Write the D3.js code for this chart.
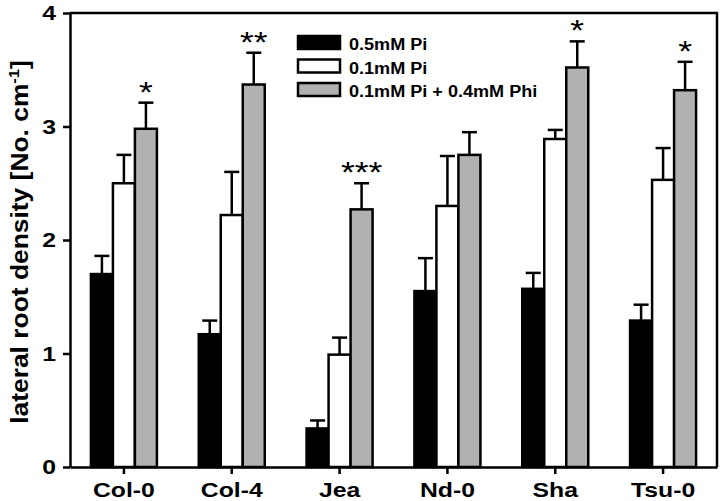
<!DOCTYPE html>
<html>
<head>
<meta charset="utf-8">
<script src="https://cdn.jsdelivr.net/npm/d3@7"></script>
<style>
  body { margin: 0; background: #fff; }
  svg { display: block; font-family: Arial, "Liberation Sans", sans-serif; }
</style>
</head>
<body>
<div id="chart"></div>
<script>
// data
const lines = ['Col-0', 'Col-4', 'Jea', 'Nd-0', 'Sha', 'Tsu-0'];
const treatments = ['0.5mM Pi', '0.1mM Pi', '0.1mM Pi + 0.4mM Phi'];
const means05 = [1.70, 1.17, 0.34, 1.55, 1.57, 1.29];
const err05   = [0.16, 0.12, 0.07, 0.29, 0.14, 0.14];
const means01 = [2.50, 2.22, 0.99, 2.30, 2.89, 2.53];
const err01   = [0.25, 0.38, 0.15, 0.44, 0.08, 0.28];
const meansPhi = [2.98, 3.37, 2.27, 2.75, 3.52, 3.32];
const errPhi   = [0.23, 0.28, 0.23, 0.20, 0.23, 0.25];
const signif = ['*', '**', '***', '', '*', '*'];
const yTicks = [0, 1, 2, 3, 4];

const fills = ['#000000', '#ffffff', '#b1b1b3'];

// the fonts in the original figure are a bit wider than Arial
const stretch = 1.18;

let width = 720, height = 501;
let margin = {top: 13, right: 3, bottom: 34, left: 70};

let svg = d3.select('#chart').append('svg')
    .attr('width', width)
    .attr('height', height);

let x0 = d3.scaleBand()
    .domain(lines)
    .range([margin.left, width - margin.right]);

// bars in a group: 66 px wide, centred in the band
let x1 = d3.scaleBand()
    .domain(treatments)
    .range([-33, 33]);

let y = d3.scaleLinear()
    .domain([0, 4])
    .range([height - margin.bottom, margin.top]);

// build a flat table from the arrays
let seriesMeans = [means05, means01, meansPhi];
let seriesErr = [err05, err01, errPhi];
let table = [];
lines.forEach((l, i) => {
    treatments.forEach((t, j) => {
        table.push({line: l, treat: t, idx: j, mean: seriesMeans[j][i], err: seriesErr[j][i]});
    });
});

let barCenter = d => x0(d.line) + x0.bandwidth() / 2 + x1(d.treat) + x1.bandwidth() / 2;

// error bars (upward only), drawn under the bars
let eb = svg.append('g').attr('class', 'errors');
eb.selectAll('line.stem')
    .data(table)
    .enter().append('line')
    .attr('x1', barCenter)
    .attr('x2', barCenter)
    .attr('y1', d => y(d.mean))
    .attr('y2', d => y(d.mean + d.err))
    .attr('stroke', '#000')
    .attr('stroke-width', 2.5);
eb.selectAll('line.cap')
    .data(table)
    .enter().append('line')
    .attr('x1', d => barCenter(d) - 7.5)
    .attr('x2', d => barCenter(d) + 7.5)
    .attr('y1', d => y(d.mean + d.err))
    .attr('y2', d => y(d.mean + d.err))
    .attr('stroke', '#000')
    .attr('stroke-width', 2.5);

// bars
svg.append('g').selectAll('rect')
    .data(table)
    .enter().append('rect')
    .attr('x', d => x0(d.line) + x0.bandwidth() / 2 + x1(d.treat))
    .attr('y', d => y(d.mean))
    .attr('width', x1.bandwidth())
    .attr('height', d => y(0) - y(d.mean))
    .attr('fill', d => fills[d.idx])
    .attr('stroke', '#000')
    .attr('stroke-width', 2.5);

// significance stars above the Phi bar
svg.append('g').selectAll('text')
    .data(lines)
    .enter().append('text')
    .attr('transform', (d, i) => {
        let cx = x0(d) + x0.bandwidth() / 2 + x1(treatments[2]) + x1.bandwidth() / 2;
        return `translate(${cx},${y(meansPhi[i] + errPhi[i]) - 1}) scale(${stretch},1)`;
    })
    .attr('text-anchor', 'middle')
    .attr('font-size', 30)
    .attr('fill', '#000')
    .text((d, i) => signif[i]);

// frame: top and right
svg.append('path')
    .attr('d', `M${margin.left},${y(4)}H${width - margin.right}V${y(0)}`)
    .attr('fill', 'none')
    .attr('stroke', '#000')
    .attr('stroke-width', 2.5);

// axes
let yAxis = svg.append('g')
    .attr('transform', `translate(${margin.left},0)`)
    .call(d3.axisLeft(y).tickValues(yTicks).tickFormat(d3.format('d')).tickSize(7).tickSizeOuter(0));
yAxis.selectAll('text')
    .attr('font-size', 21)
    .attr('font-weight', 'bold')
    .attr('x', -14 / stretch)
    .attr('transform', `scale(${stretch},1)`)
    .attr('fill', '#000');

let xAxis = svg.append('g')
    .attr('transform', `translate(0,${y(0)})`)
    .call(d3.axisBottom(x0).tickSize(7).tickSizeOuter(0));
xAxis.selectAll('text')
    .attr('font-size', 21)
    .attr('font-weight', 'bold')
    .attr('y', 30)
    .attr('dy', 0)
    .attr('transform', `scale(${stretch},1)`)
    .attr('fill', '#000');

svg.selectAll('.domain, .tick line')
    .attr('stroke', '#000')
    .attr('stroke-width', 2.5);

// y-axis title
let yTitle = svg.append('text')
    .attr('transform', `translate(28,${(y(0) + y(4)) / 2 + 2}) rotate(-90) scale(1.1,1)`)
    .attr('text-anchor', 'middle')
    .attr('font-size', 24)
    .attr('font-weight', 'bold')
    .attr('fill', '#000');
yTitle.append('tspan').text('lateral root density [No. cm');
yTitle.append('tspan').attr('font-size', 15).attr('dy', -9).text('-1');
yTitle.append('tspan').attr('dy', 9).text(']');

// legend
let legend = svg.append('g')
    .attr('transform', 'translate(298,36)');
let rows = legend.selectAll('g')
    .data(treatments)
    .enter().append('g')
    .attr('transform', (d, i) => `translate(0,${i * 23.5})`);
rows.append('rect')
    .attr('width', 42)
    .attr('height', 13)
    .attr('fill', (d, i) => fills[i])
    .attr('stroke', '#000')
    .attr('stroke-width', 2.5);
rows.append('text')
    .attr('transform', 'translate(51,14) scale(1.13,1)')
    .attr('font-size', 16)
    .attr('font-weight', 'bold')
    .attr('fill', '#000')
    .text(d => d);
</script>
</body>
</html>
